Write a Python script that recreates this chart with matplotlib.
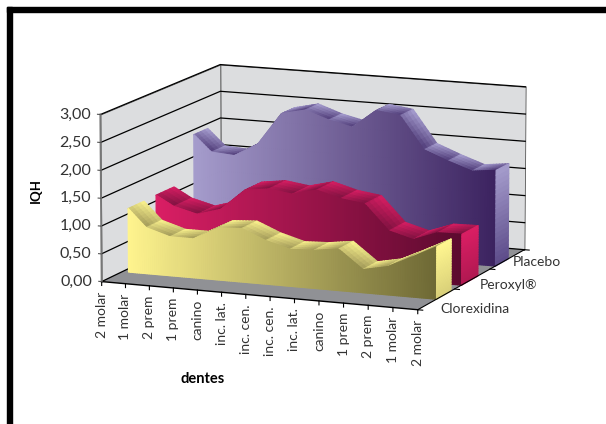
import numpy as np
import matplotlib
matplotlib.use("Agg")
import matplotlib.pyplot as plt
from matplotlib.patches import Rectangle
from mpl_toolkits.mplot3d import proj3d
from mpl_toolkits.mplot3d.art3d import Poly3DCollection

plt.rcParams['font.family'] = ['Lato', 'DejaVu Sans']

dentes = ["2 molar", "1 molar", "2 prem", "1 prem", "canino", "inc. lat.", "inc. cen.",
          "inc. cen.", "inc. lat.", "canino", "1 prem", "2 prem", "1 molar", "2 molar"]
series = ["Clorexidina", "Peroxyl®", "Placebo"]
clorexidina = [1.15, 0.83, 0.70, 0.70, 0.93, 0.96, 0.78, 0.66, 0.68, 0.74, 0.41, 0.50, 0.71, 0.93]
peroxyl = [1.16, 0.98, 0.87, 1.00, 1.38, 1.44, 1.38, 1.49, 1.37, 1.31, 0.86, 0.74, 0.90, 0.91]
placebo = [1.96, 1.66, 1.63, 1.88, 2.47, 2.57, 2.42, 2.32, 2.66, 2.60, 2.01, 1.84, 1.69, 1.74]
iqh_ticks = [0.0, 0.5, 1.0, 1.5, 2.0, 2.5, 3.0]

# faixa de profundidade ocupada por cada serie (frente, fundo)
bandas = [(0.17, 0.30), (0.40, 0.55), (0.72, 0.84)]
cor_frente = [("#FFF48E", "#6E6935"), ("#DA1E64", "#5C0A2F"), ("#A59CCC", "#3C2360")]
cor_fita = [("#FFF690", "#A09858"), ("#DA1E64", "#7E1240"), ("#ABA3D4", "#4F3B78")]
cor_tampa = [("#FFF690", "#D8CF78"), ("#DA1E64", "#B01850"), ("#A59CCC", "#5B4A88")]
# deslocamento de cada rotulo de serie, em pontos
desloc_serie = [(3, -7), (5, -4), (4, -2)]

# a primeira fatia de cada serie comeca um pouco depois da parede
xs = np.arange(14.0)
xs[0] = 0.25


def rgb(c):
    return np.array(matplotlib.colors.to_rgb(c))


def mistura(c0, c1, s):
    return tuple(rgb(c0) * (1 - s) + rgb(c1) * s)


def face_frontal(ax, vals, y0, cores, z):
    # frente da area, em tiras verticais para o degrade horizontal
    xf = np.linspace(xs[0], xs[-1], 150)
    zf = np.interp(xf, xs, vals)
    polys, cols = [], []
    for k in range(len(xf) - 1):
        polys.append([(xf[k], y0, 0), (xf[k + 1], y0, 0), (xf[k + 1], y0, zf[k + 1]), (xf[k], y0, zf[k])])
        cols.append(mistura(cores[0], cores[1], k / (len(xf) - 2)))
    ax.add_collection3d(Poly3DCollection(polys, facecolors=cols, edgecolors=cols, linewidths=1.0, zorder=z))


def fita(ax, vals, y0, y1, cores, z):
    # topo da area, um quadrilatero por intervalo
    polys, cols = [], []
    nu, nv = 8, 4
    for i in range(len(xs) - 1):
        for a in range(nu):
            for b in range(nv):
                u0, u1 = a / nu, (a + 1) / nu
                v0, v1 = b / nv, (b + 1) / nv
                xa = xs[i] + (xs[i + 1] - xs[i]) * u0
                xb = xs[i] + (xs[i + 1] - xs[i]) * u1
                za = vals[i] + (vals[i + 1] - vals[i]) * u0
                zb = vals[i] + (vals[i + 1] - vals[i]) * u1
                ya = y0 + (y1 - y0) * v0
                yb = y0 + (y1 - y0) * v1
                polys.append([(xa, ya, za), (xb, ya, zb), (xb, yb, zb), (xa, yb, za)])
                s = 0.5 * (u0 + u1) / 2 + 0.5 * (1 - (v0 + v1) / 2)
                cols.append(mistura(cores[0], cores[1], s))
    col = Poly3DCollection(polys, facecolors=cols, edgecolors=cols, linewidths=1.0, zorder=z)
    ax.add_collection3d(col)


def tampa(ax, val, y0, y1, cores, z):
    # lateral direita da area
    n = 20
    polys, cols = [], []
    for k in range(n):
        za, zb = val * (1 - k / n), val * (1 - (k + 1) / n)
        polys.append([(13, y0, za), (13, y1, za), (13, y1, zb), (13, y0, zb)])
        cols.append(mistura(cores[0], cores[1], (k + 0.5) / n))
    ax.add_collection3d(Poly3DCollection(polys, facecolors=cols, edgecolors=cols, linewidths=1.0, zorder=z))


fig = plt.figure(figsize=(6.06, 4.24), dpi=100)
lado = 800
cx, cy = 305, 194
ax = fig.add_axes([(cx - lado / 2) / 606, (424 - cy - lado / 2) / 424, lado / 606, lado / 424], projection='3d')
ax.set_proj_type('persp', focal_length=1.3)
ax.view_init(elev=11.4, azim=-67.8)
ax.set_box_aspect((311, 278, 156), zoom=1.1 * 424 / lado)
ax.set_xlim(0, 13)
ax.set_ylim(0, 1)
ax.set_zlim(0, 3)
ax.set_axis_off()
ax.computed_zorder = False
ax.patch.set_alpha(0)

# paredes e piso
parede = "#DCDDDF"
ax.add_collection3d(Poly3DCollection([[(0, 1, 0), (13, 1, 0), (13, 1, 3), (0, 1, 3)]], facecolors=parede, edgecolors="#555555", linewidths=0.6, zorder=1))
ax.add_collection3d(Poly3DCollection([[(0, 0, 0), (0, 1, 0), (0, 1, 3), (0, 0, 3)]], facecolors=parede, edgecolors="#555555", linewidths=0.6, zorder=1))
ax.add_collection3d(Poly3DCollection([[(0, 0, 0), (13, 0, 0), (13, 1, 0), (0, 1, 0)]], facecolors="#909195", edgecolors="none", zorder=2))
for v in iqh_ticks:
    ax.plot([0, 0, 13], [0, 1, 1], [v, v, v], color="black", lw=0.9, zorder=3)

# series de tras para a frente
valores = [clorexidina, peroxyl, placebo]
for s in [2, 1, 0]:
    base = 10 + (2 - s) * 10
    y0, y1 = bandas[s]
    fita(ax, valores[s], y0, y1, cor_fita[s], base)
    face_frontal(ax, valores[s], y0, cor_frente[s], base + 1)
    tampa(ax, valores[s][-1], y0, y1, cor_tampa[s], base + 2)

# eixos
ax.plot([0, 13], [0, 0], [0, 0], color="black", lw=1.0, zorder=40)
ax.plot([13, 13], [0, 1], [0, 0], color="black", lw=0.8, zorder=40)
ax.plot([0, 0], [0, 0], [0, 3], color="#777777", lw=1.4, zorder=40)
for i in range(14):
    ax.plot([i, i], [0, 0], [0, -0.07], color="black", lw=0.8, zorder=40)
for v in iqh_ticks:
    ax.plot([0, -0.12], [0, 0], [v, v], color="#555555", lw=0.8, zorder=40)
for t in [0, 1 / 3, 2 / 3, 1]:
    ax.plot([13, 13.2], [t, t], [0, 0], color="black", lw=0.8, zorder=40)


def tela(x, y, z):
    px, py, _ = proj3d.proj_transform(x, y, z, ax.get_proj())
    return px, py


texto = "#333333"
for i, nome in enumerate(dentes):
    ax.annotate(nome, tela(i, 0, 0), xytext=(0, -7), textcoords='offset points', rotation=90,
                ha='center', va='top', fontsize=10, color=texto)
for v in iqh_ticks:
    ax.annotate(f"{v:.2f}".replace(".", ","), tela(0, 0, v), xytext=(-7, 0), textcoords='offset points',
                ha='right', va='center', fontsize=11.5, color=texto)
for s, nome in enumerate(series):
    ax.annotate(nome, tela(13, (s + 0.5) / 3, 0), xytext=desloc_serie[s], textcoords='offset points',
                ha='left', va='center', fontsize=10, color=texto)

fig.text(36 / 606, 1 - 190 / 424, "IQH", rotation=90, ha='center', va='center', fontsize=9.5, fontweight='bold', color='black')
fig.text(203 / 606, 1 - 379 / 424, "dentes", ha='center', va='center', fontsize=10.5, fontweight='bold', color='black')

# moldura preta
fig.add_artist(Rectangle((7 / 606, -0.1), 5 / 606, 1.1 - 7 / 424, transform=fig.transFigure, color='black'))
fig.add_artist(Rectangle((7 / 606, 1 - 12 / 424), 1, 5 / 424, transform=fig.transFigure, color='black'))

fig.savefig("out.png", dpi=100)
